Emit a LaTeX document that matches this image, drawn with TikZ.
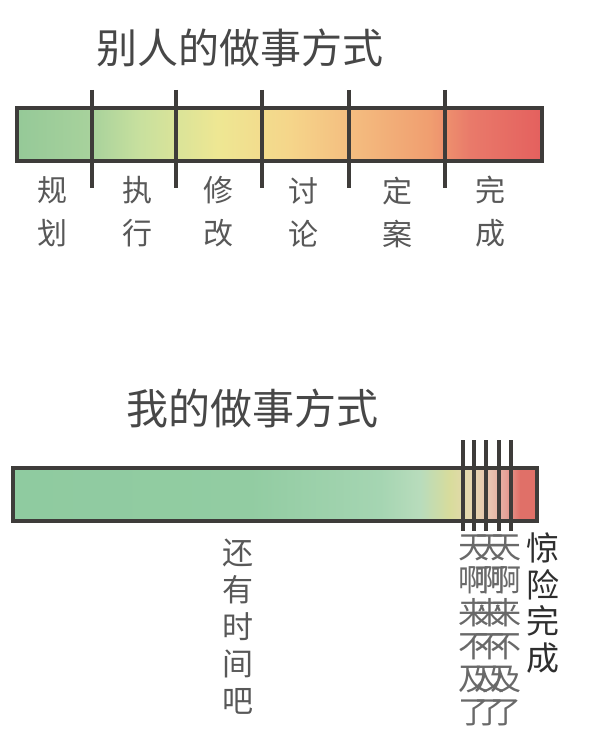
\documentclass[tikz,border=0pt]{standalone}
\usepackage{fontspec}
\setmainfont{Noto Sans CJK SC}
\usepackage{xcolor}
\usetikzlibrary{positioning}
\definecolor{framegray}{HTML}{3E3C3A}
\definecolor{labelgray}{HTML}{585858}
\definecolor{titlegray}{HTML}{474747}
\definecolor{darkink}{HTML}{2E2E2E}
% stops of the upper bar
\definecolor{planA}{HTML}{95C998}
\definecolor{planB}{HTML}{A8D29C}
\definecolor{doB}{HTML}{C8E09E}
\definecolor{fixA}{HTML}{EEE793}
\definecolor{talkA}{HTML}{F5D58A}
\definecolor{talkB}{HTML}{F4BE80}
\definecolor{fixedA}{HTML}{F09E70}
\definecolor{doneA}{HTML}{E97A6A}
\definecolor{doneB}{HTML}{E4605E}
% stops of the lower bar
\definecolor{mineA}{HTML}{8FCBA0}
\definecolor{mineB}{HTML}{92CCA2}
\definecolor{mineC}{HTML}{A5D5B2}
\definecolor{mineD}{HTML}{B8DCBC}
\definecolor{mineE}{HTML}{D8DC9C}
\definecolor{mineF}{HTML}{E6D8B0}
\definecolor{mineG}{HTML}{E8C3B0}
\definecolor{mineH}{HTML}{E5A49A}
\definecolor{mineI}{HTML}{E07068}
\pgfdeclarehorizontalshading{othersbar}{100bp}{color(0bp)=(planA); color(25bp)=(planA); color(32.14bp)=(planB); color(36.71bp)=(doB); color(44.14bp)=(fixA); color(51bp)=(talkA); color(56.62bp)=(talkB); color(64.33bp)=(fixedA); color(68.14bp)=(doneA); color(75bp)=(doneB); color(100bp)=(doneB)}
\pgfdeclarehorizontalshading{minebar}{100bp}{color(0bp)=(mineA); color(25bp)=(mineA); color(47.61bp)=(mineB); color(60.02bp)=(mineC); color(63.84bp)=(mineD); color(66.7bp)=(mineE); color(68.61bp)=(mineF); color(70.52bp)=(mineG); color(71.95bp)=(mineH); color(73.38bp)=(mineI); color(75bp)=(mineI); color(100bp)=(mineI)}

\begin{document}
\begin{tikzpicture}[
        x=1pt, y=-1pt,
        headline/.style={font=\fontsize{41pt}{46pt}\selectfont, text=titlegray, inner sep=0pt},
        bar/.style={draw=framegray, line width=3.5pt, minimum height=53pt, inner sep=0pt},
        divider/.style={draw=framegray, line width=3.8pt},
        steplabel/.style={font=\fontsize{30pt}{43pt}\selectfont, text=labelgray, align=center, inner sep=0pt},
        rushtext/.style={font=\fontsize{31pt}{33pt}\selectfont, text=labelgray!90, align=center, inner sep=0pt},
        donetext/.style={font=\fontsize{33pt}{36.5pt}\selectfont, text=darkink, align=center, inner sep=0pt}
    ]
    \useasboundingbox (0,0) rectangle (600,751);

    % === Others' way ===
    \node[headline] (titleothers) at (240,48) {别人的做事方式};
    \node[bar, shading=othersbar, minimum width=525pt] (barothers) at (279.5,134.5) {};
    \foreach \x in {92,176,262,349,445} { \draw[divider] (\x,90) -- (\x,188); }
    \foreach \x/\name/\txt in {52/plan/规\\划, 137/exec/执\\行, 218/revise/修\\改, 303/discuss/讨\\论, 397/settle/定\\案, 490/finish/完\\成}
        { \node[steplabel] (\name) at (\x,212) {\txt}; }

    % === My way ===
    \node[headline, font=\fontsize{42pt}{46pt}\selectfont] (titlemine) at (252,408) {我的做事方式};
    \node[bar, shading=minebar, minimum width=524pt] (barmine) at (275,494.5) {};
    \foreach \x in {463,474,486,499,511} { \draw[divider, line width=3.4pt] (\x,440) -- (\x,531); }
    \node[steplabel, font=\fontsize{31pt}{37pt}\selectfont] (stilltime) at (238,627) {还\\有\\时\\间\\吧};
    % panic, written over itself
    \foreach \dx in {0,16,32} { \node[rushtext] (rush\dx) at (474+\dx,630) {天\\啊\\来\\不\\及\\了}; }
    \node[donetext] (narrow) at (543,603) {惊\\险\\完\\成};

    \end{tikzpicture}
\end{document}
